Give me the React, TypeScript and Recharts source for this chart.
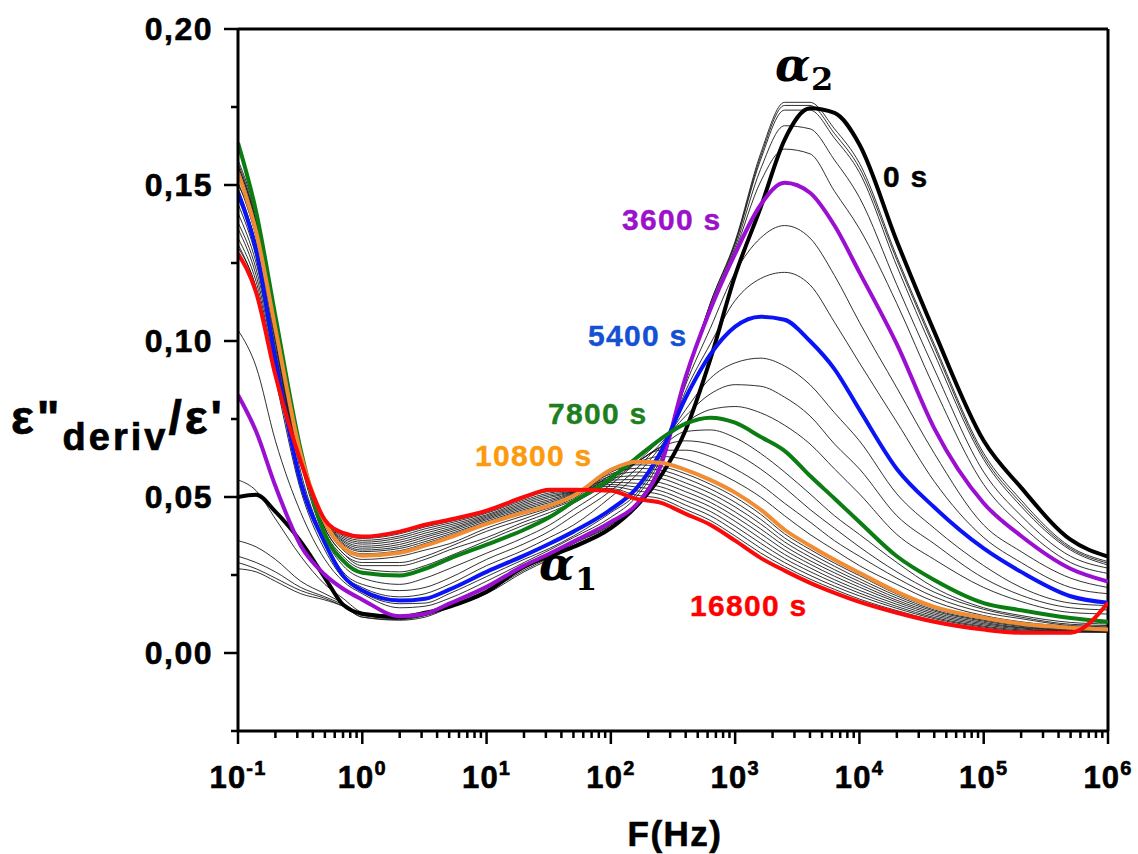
import { Line, LineChart, ReferenceLine, XAxis, YAxis } from "recharts";

// frequency grid (Hz)
const freqs = [0.1, 0.14, 0.2, 0.32, 0.5, 0.7, 1, 2, 3.2, 5, 10, 20, 32, 50, 100, 160, 250, 400, 630, 1000, 1600, 2500, 4000, 6300, 1e4, 2e4, 4e4, 1e5, 2e5, 5e5, 1e6];

// highlighted curves
const t0 = [0.05, 0.0507, 0.0453, 0.0357, 0.0241, 0.0155, 0.0126, 0.0116, 0.0129, 0.0148, 0.0196, 0.0277, 0.031, 0.034, 0.04, 0.047, 0.0565, 0.0715, 0.094, 0.121, 0.1427, 0.1645, 0.1746, 0.1731, 0.163, 0.132, 0.103, 0.068, 0.053, 0.0363, 0.0309];
const t3600 = [0.0827, 0.071, 0.0535, 0.0344, 0.0251, 0.0206, 0.0171, 0.0118, 0.0126, 0.0158, 0.0212, 0.028, 0.0318, 0.0357, 0.042, 0.0475, 0.0597, 0.0885, 0.11, 0.128, 0.1436, 0.1507, 0.1475, 0.137, 0.122, 0.099, 0.072, 0.048, 0.0375, 0.027, 0.0229];
const t5400 = [0.1475, 0.129, 0.094, 0.0546, 0.0353, 0.0248, 0.02, 0.0168, 0.0174, 0.0203, 0.026, 0.0312, 0.035, 0.0389, 0.046, 0.0527, 0.0642, 0.0818, 0.0956, 0.1046, 0.1078, 0.1068, 0.1, 0.091, 0.078, 0.059, 0.0467, 0.0335, 0.026, 0.0182, 0.0161];
const t7800 = [0.1635, 0.1414, 0.108, 0.065, 0.038, 0.0296, 0.0257, 0.0248, 0.027, 0.0302, 0.0347, 0.0395, 0.0435, 0.0485, 0.056, 0.0625, 0.0685, 0.0735, 0.0754, 0.0738, 0.0693, 0.0648, 0.0568, 0.0495, 0.042, 0.031, 0.0234, 0.016, 0.0137, 0.0112, 0.01];
const t10800 = [0.1539, 0.135, 0.104, 0.0636, 0.042, 0.0338, 0.0312, 0.0321, 0.0344, 0.037, 0.0414, 0.045, 0.0472, 0.0504, 0.0587, 0.0613, 0.061, 0.0587, 0.0555, 0.0514, 0.046, 0.0395, 0.0344, 0.0299, 0.0257, 0.0196, 0.0148, 0.0113, 0.0094, 0.0081, 0.0075];
const t16800 = [0.128, 0.1155, 0.089, 0.0613, 0.0427, 0.0385, 0.0373, 0.0389, 0.0411, 0.0427, 0.0456, 0.05, 0.0523, 0.0523, 0.052, 0.0494, 0.0482, 0.0446, 0.0411, 0.036, 0.0305, 0.0264, 0.0225, 0.0193, 0.0164, 0.0129, 0.01, 0.0075, 0.0065, 0.0065, 0.0161];

// intermediate curves (thin)
const t600 = [0.027, 0.026, 0.023, 0.019, 0.017, 0.015, 0.0115, 0.0105, 0.0115, 0.0145, 0.019, 0.026, 0.03, 0.034, 0.04, 0.047, 0.059, 0.087, 0.112, 0.132, 0.16, 0.1765, 0.1765, 0.168, 0.157, 0.127, 0.099, 0.064, 0.049, 0.034, 0.0293];
const t1200 = [0.029, 0.027, 0.024, 0.02, 0.0175, 0.015, 0.0115, 0.0107, 0.012, 0.0145, 0.0195, 0.0265, 0.0305, 0.0345, 0.0405, 0.0475, 0.0595, 0.087, 0.112, 0.1315, 0.159, 0.1755, 0.1755, 0.1665, 0.1555, 0.126, 0.098, 0.063, 0.048, 0.0335, 0.0288];
const t1800 = [0.031, 0.029, 0.026, 0.021, 0.018, 0.0155, 0.012, 0.011, 0.012, 0.0148, 0.0198, 0.027, 0.031, 0.035, 0.041, 0.048, 0.06, 0.0875, 0.111, 0.131, 0.158, 0.174, 0.174, 0.165, 0.154, 0.124, 0.096, 0.062, 0.047, 0.033, 0.0282];
const t2400 = [0.036, 0.034, 0.03, 0.023, 0.019, 0.016, 0.0125, 0.011, 0.0125, 0.015, 0.02, 0.0272, 0.0312, 0.0352, 0.0412, 0.048, 0.0605, 0.088, 0.111, 0.13, 0.155, 0.169, 0.168, 0.158, 0.146, 0.118, 0.091, 0.058, 0.044, 0.031, 0.0272];
const t3000 = [0.0555, 0.052, 0.043, 0.031, 0.022, 0.0175, 0.013, 0.0112, 0.0125, 0.0152, 0.0202, 0.0275, 0.0315, 0.0355, 0.0415, 0.048, 0.061, 0.089, 0.111, 0.129, 0.151, 0.1615, 0.16, 0.148, 0.136, 0.112, 0.085, 0.054, 0.041, 0.029, 0.0255];
const t4200 = [0.1035, 0.0917, 0.068, 0.045, 0.03, 0.023, 0.019, 0.0145, 0.015, 0.0175, 0.023, 0.029, 0.033, 0.037, 0.0435, 0.05, 0.062, 0.086, 0.104, 0.122, 0.133, 0.137, 0.133, 0.121, 0.106, 0.085, 0.064, 0.041, 0.0325, 0.024, 0.021];
const t4800 = [0.13, 0.117, 0.088, 0.052, 0.033, 0.024, 0.0195, 0.0158, 0.016, 0.019, 0.0245, 0.03, 0.0335, 0.0375, 0.045, 0.051, 0.063, 0.084, 0.099, 0.113, 0.12, 0.122, 0.118, 0.106, 0.093, 0.074, 0.055, 0.037, 0.029, 0.021, 0.019];
const t6000 = [0.146, 0.131, 0.096, 0.056, 0.035, 0.025, 0.021, 0.018, 0.019, 0.022, 0.028, 0.033, 0.037, 0.041, 0.05, 0.057, 0.066, 0.078, 0.088, 0.093, 0.0945, 0.092, 0.086, 0.077, 0.068, 0.051, 0.04, 0.028, 0.021, 0.016, 0.0152];
const t6600 = [0.15, 0.135, 0.1, 0.058, 0.036, 0.026, 0.022, 0.02, 0.021, 0.024, 0.03, 0.035, 0.039, 0.044, 0.052, 0.059, 0.067, 0.076, 0.083, 0.086, 0.0855, 0.082, 0.076, 0.067, 0.059, 0.044, 0.035, 0.024, 0.0185, 0.0145, 0.0138];
const t7200 = [0.156, 0.138, 0.104, 0.061, 0.037, 0.028, 0.024, 0.022, 0.024, 0.027, 0.032, 0.037, 0.041, 0.046, 0.054, 0.061, 0.068, 0.074, 0.078, 0.079, 0.077, 0.073, 0.067, 0.059, 0.051, 0.038, 0.03, 0.021, 0.0165, 0.013, 0.0125];
const t8400 = [0.158, 0.14, 0.106, 0.064, 0.039, 0.031, 0.027, 0.026, 0.028, 0.031, 0.036, 0.041, 0.044, 0.048, 0.055, 0.061, 0.066, 0.071, 0.0715, 0.069, 0.064, 0.058, 0.051, 0.044, 0.038, 0.029, 0.021, 0.0145, 0.012, 0.0098, 0.0093];
const t9000 = [0.157, 0.139, 0.106, 0.064, 0.04, 0.032, 0.028, 0.028, 0.03, 0.033, 0.037, 0.042, 0.045, 0.0485, 0.056, 0.061, 0.066, 0.068, 0.067, 0.064, 0.059, 0.053, 0.046, 0.04, 0.034, 0.026, 0.0195, 0.014, 0.0115, 0.0092, 0.0088];
const t9600 = [0.156, 0.138, 0.105, 0.064, 0.04, 0.032, 0.029, 0.029, 0.031, 0.034, 0.039, 0.043, 0.046, 0.049, 0.057, 0.061, 0.065, 0.065, 0.063, 0.059, 0.054, 0.048, 0.042, 0.036, 0.031, 0.024, 0.018, 0.013, 0.011, 0.0088, 0.0084];
const t10200 = [0.155, 0.137, 0.105, 0.064, 0.041, 0.033, 0.03, 0.031, 0.033, 0.035, 0.04, 0.044, 0.0465, 0.0495, 0.058, 0.061, 0.063, 0.062, 0.059, 0.055, 0.05, 0.044, 0.038, 0.033, 0.028, 0.022, 0.0165, 0.012, 0.01, 0.0085, 0.008];
const t11400 = [0.151, 0.133, 0.102, 0.0634, 0.042, 0.0343, 0.0318, 0.0328, 0.0351, 0.0376, 0.0418, 0.0455, 0.0477, 0.0507, 0.058, 0.0603, 0.0598, 0.0574, 0.0541, 0.0499, 0.0445, 0.0382, 0.0332, 0.0288, 0.0248, 0.0189, 0.0143, 0.0109, 0.0091, 0.0079, 0.0074];
const t12000 = [0.149, 0.131, 0.101, 0.0632, 0.0421, 0.0348, 0.0325, 0.0335, 0.0357, 0.0381, 0.0422, 0.046, 0.0482, 0.051, 0.0574, 0.0592, 0.0586, 0.056, 0.0526, 0.0483, 0.0429, 0.0369, 0.032, 0.0278, 0.0238, 0.0183, 0.0138, 0.0105, 0.0088, 0.0078, 0.0073];
const t12600 = [0.146, 0.129, 0.0995, 0.063, 0.0422, 0.0352, 0.033, 0.0341, 0.0364, 0.0387, 0.0427, 0.0465, 0.0487, 0.0512, 0.0567, 0.058, 0.0573, 0.0545, 0.0512, 0.0468, 0.0414, 0.0356, 0.0308, 0.0267, 0.0229, 0.0176, 0.0134, 0.0102, 0.0085, 0.0076, 0.0072];
const t13200 = [0.144, 0.127, 0.098, 0.0627, 0.0423, 0.0357, 0.0336, 0.0348, 0.0371, 0.0393, 0.0431, 0.047, 0.0492, 0.0514, 0.056, 0.0568, 0.056, 0.0531, 0.0497, 0.0452, 0.0398, 0.0343, 0.0296, 0.0257, 0.022, 0.0169, 0.0129, 0.0098, 0.0082, 0.0075, 0.0071];
const t13800 = [0.141, 0.125, 0.0965, 0.0625, 0.0423, 0.0361, 0.0342, 0.0355, 0.0377, 0.0398, 0.0435, 0.0475, 0.0498, 0.0516, 0.0554, 0.0556, 0.0546, 0.0517, 0.0483, 0.0437, 0.0383, 0.033, 0.0285, 0.0246, 0.0211, 0.0163, 0.0124, 0.0094, 0.008, 0.0073, 0.007];
const t14400 = [0.138, 0.123, 0.095, 0.0622, 0.0424, 0.0366, 0.0349, 0.0362, 0.0384, 0.0404, 0.0439, 0.048, 0.0503, 0.0517, 0.0547, 0.0544, 0.0533, 0.0502, 0.0469, 0.0422, 0.0367, 0.0316, 0.0273, 0.0235, 0.0201, 0.0156, 0.0119, 0.009, 0.0077, 0.0071, 0.0069];
const t15000 = [0.136, 0.121, 0.0935, 0.062, 0.0425, 0.0371, 0.0355, 0.0369, 0.0391, 0.041, 0.0443, 0.0485, 0.0508, 0.0519, 0.054, 0.0532, 0.052, 0.0488, 0.0454, 0.0406, 0.0352, 0.0303, 0.0261, 0.0225, 0.0192, 0.0149, 0.0114, 0.0086, 0.0074, 0.007, 0.0068];
const t15600 = [0.133, 0.119, 0.092, 0.0618, 0.0426, 0.0376, 0.0361, 0.0375, 0.0398, 0.0416, 0.0448, 0.049, 0.0513, 0.0521, 0.0534, 0.052, 0.0508, 0.0474, 0.044, 0.0391, 0.0336, 0.029, 0.0249, 0.0214, 0.0183, 0.0143, 0.011, 0.0083, 0.0071, 0.0068, 0.0067];
const t16200 = [0.131, 0.117, 0.0905, 0.0615, 0.0426, 0.038, 0.0367, 0.0382, 0.0404, 0.0421, 0.0452, 0.0495, 0.0518, 0.0522, 0.0527, 0.0506, 0.0495, 0.046, 0.0425, 0.0375, 0.0321, 0.0277, 0.0237, 0.0204, 0.0173, 0.0136, 0.0105, 0.0079, 0.0068, 0.0067, 0.0066];

const thinCurves = [t600, t1200, t1800, t2400, t3000, t4200, t4800, t6000, t6600, t7200, t8400, t9000, t9600, t10200, t11400, t12000, t12600, t13200, t13800, t14400, t15000, t15600, t16200];

const mainCurves = [
  { key: "s0", values: t0, color: "#000000" },
  { key: "s3600", values: t3600, color: "#9a0fd0" },
  { key: "s5400", values: t5400, color: "#0a14f5" },
  { key: "s7800", values: t7800, color: "#0b7d12" },
  { key: "s10800", values: t10800, color: "#f08c34" },
  { key: "s16800", values: t16800, color: "#fa0a0a" }
];

const xMajor = [0.1, 1, 10, 100, 1000, 1e4, 1e5, 1e6];
const xTicks = xMajor.flatMap((d, i) => (i === xMajor.length - 1 ? [d] : [2, 3, 4, 5, 6, 7, 8, 9].map((m) => m * d).concat(d)));
const yTicks = [-0.025, 0, 0.025, 0.05, 0.075, 0.1, 0.125, 0.15, 0.175, 0.2];

const data = freqs.map((f, i) => {
  const row: any = { f };
  thinCurves.forEach((c, j) => (row["thin" + j] = c[i]));
  mainCurves.forEach((c) => (row[c.key] = c.values[i]));
  return row;
});

const FONT = "'Liberation Sans', Arial, sans-serif";

function XTick(props: any) {
  const { x, y, payload } = props;
  const lg = Math.log10(payload.value);
  const exp = Math.round(lg);
  const major = Math.abs(lg - exp) < 1e-6;
  return (
    <g>
      <line x1={x} x2={x} y1={y} y2={y + (major ? 13 : 7)} stroke="#000" strokeWidth={2.5} />
      {major && (
        <text x={x} y={y + 57} textAnchor="middle" fontFamily={FONT} fontWeight="bold" fontSize={31} letterSpacing={1.2} fill="#000" stroke="#000" strokeWidth={0.6}>
          10
          <tspan dy={-13} fontSize={20}>{exp}</tspan>
        </text>
      )}
    </g>
  );
}

function YTick(props: any) {
  const { x, y, payload } = props;
  const v = payload.value;
  const major = Math.abs(Math.round(v / 0.05) * 0.05 - v) < 1e-9;
  return (
    <g>
      <line x1={x - (major ? 14 : 7)} x2={x} y1={y} y2={y} stroke="#000" strokeWidth={2.5} />
      {major && v >= 0 && (
        <text x={x - 25} y={y + 11} textAnchor="end" fontFamily={FONT} fontWeight="bold" fontSize={32} letterSpacing={1.5} fill="#000" stroke="#000" strokeWidth={0.6}>
          {v.toFixed(2).replace(".", ",")}
        </text>
      )}
    </g>
  );
}

const labelStyle = { fontFamily: FONT, fontWeight: "bold" as const, fontSize: 30, letterSpacing: 1.3, stroke: "currentColor", strokeWidth: 0.4 };

export default function App() {
  return (
    <div style={{ position: "absolute", left: 0, top: 0, width: 1138, height: 854, background: "#fff" }}>
      <LineChart width={1138} height={854} data={data} margin={{ top: 29, right: 30, bottom: 63, left: 148 }}>
        <XAxis
          dataKey="f"
          type="number"
          scale="log"
          domain={[0.1, 1e6]}
          ticks={xTicks}
          interval={0}
          allowDataOverflow
          height={60}
          tickSize={0}
          tickMargin={0}
          tickLine={false}
          axisLine={{ stroke: "#000", strokeWidth: 3 }}
          tick={<XTick />}
        />
        <YAxis
          type="number"
          domain={[-0.025, 0.2]}
          ticks={yTicks}
          interval={0}
          allowDataOverflow
          width={90}
          tickSize={0}
          tickMargin={0}
          tickLine={false}
          axisLine={{ stroke: "#000", strokeWidth: 3 }}
          tick={<YTick />}
        />
        <ReferenceLine y={0.2} stroke="#000" strokeWidth={3} />
        <ReferenceLine x={1e6} stroke="#000" strokeWidth={3} />
        {thinCurves.map((_, j) => (
          <Line key={"thin" + j} dataKey={"thin" + j} type="monotone" stroke="#1a1a1a" strokeWidth={0.9} dot={false} isAnimationActive={false} />
        ))}
        {mainCurves.map((c) => (
          <Line key={c.key} dataKey={c.key} type="monotone" stroke={c.color} strokeWidth={4} dot={false} isAnimationActive={false} />
        ))}
      </LineChart>
      <svg width={1138} height={854} style={{ position: "absolute", left: 0, top: 0, pointerEvents: "none" }}>
        <text x={11} y={434} fontFamily={FONT} fontWeight="bold" fontSize={48} letterSpacing={3} fill="#000" stroke="#000" strokeWidth={0.7}>
          ε"
          <tspan dy={16} fontSize={38}>deriv</tspan>
          <tspan dy={-16}>/ε'</tspan>
        </text>
        <text x={675} y={846} textAnchor="middle" fontFamily={FONT} fontWeight="bold" fontSize={35} letterSpacing={1.5} fill="#000" stroke="#000" strokeWidth={0.6}>
          F(Hz)
        </text>
        <text x={775} y={81} fontFamily="'DejaVu Serif', serif" fontStyle="italic" fontWeight="bold" fontSize={46} fill="#000">α</text>
        <text x={811} y={90} fontFamily="'DejaVu Serif', serif" fontWeight="bold" fontSize={32} fill="#000">2</text>
        <text x={539} y={580} fontFamily="'DejaVu Serif', serif" fontStyle="italic" fontWeight="bold" fontSize={46} fill="#000">α</text>
        <text x={575} y={590} fontFamily="'DejaVu Serif', serif" fontWeight="bold" fontSize={32} fill="#000">1</text>
        <text x={883} y={187} fill="#000" color="#000" {...labelStyle}>0 s</text>
        <text x={622} y={230} fill="#9a12c9" color="#9a12c9" {...labelStyle}>3600 s</text>
        <text x={588} y={346} fill="#1450d2" color="#1450d2" {...labelStyle}>5400 s</text>
        <text x={548} y={424} fill="#1e7f1e" color="#1e7f1e" {...labelStyle}>7800 s</text>
        <text x={475} y={466} fill="#fb9a0e" color="#fb9a0e" {...labelStyle}>10800 s</text>
        <text x={690} y={616} fill="#ff0000" color="#ff0000" {...labelStyle}>16800 s</text>
      </svg>
    </div>
  );
}
